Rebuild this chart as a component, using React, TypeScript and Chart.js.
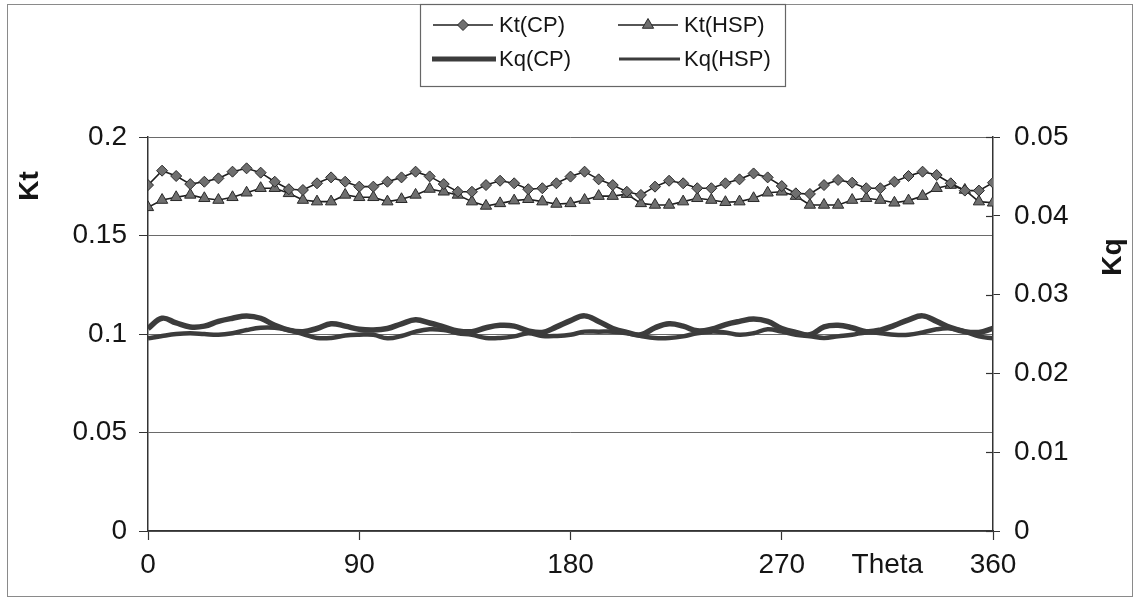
import React, { useEffect, useRef } from "react";
import { Chart, registerables } from "chart.js";

Chart.register(...registerables);

// ---- data ----
const theta = [
  0, 6, 12, 18, 24, 30, 36, 42, 48, 54, 60, 66, 72, 78, 84, 90, 96, 102, 108, 114, 120,
  126, 132, 138, 144, 150, 156, 162, 168, 174, 180, 186, 192, 198, 204, 210, 216, 222, 228, 234, 240,
  246, 252, 258, 264, 270, 276, 282, 288, 294, 300, 306, 312, 318, 324, 330, 336, 342, 348, 354, 360,
];

const ktCP = [
  0.1756, 0.1829, 0.1802, 0.1761, 0.1773, 0.179, 0.1824, 0.1841, 0.1819, 0.1773, 0.1735, 0.1731, 0.1765, 0.1795, 0.1773, 0.1748, 0.1748, 0.1773, 0.1795, 0.1824, 0.18,
  0.1761, 0.1722, 0.1722, 0.1756, 0.1778, 0.1765, 0.1735, 0.174, 0.1765, 0.1799, 0.1824, 0.1785, 0.1756, 0.1722, 0.1706, 0.1748, 0.1778, 0.1765, 0.174, 0.174,
  0.1765, 0.1785, 0.1815, 0.1795, 0.1751, 0.1714, 0.1711, 0.1756, 0.1782, 0.1768, 0.174, 0.174, 0.1773, 0.1802, 0.1824, 0.1807, 0.1765, 0.1728, 0.1728, 0.1768,
];

const ktHSP = [
  0.1643, 0.168, 0.1694, 0.1706, 0.1689, 0.168, 0.1694, 0.1717, 0.174, 0.174, 0.1714, 0.168, 0.1672, 0.1672, 0.1706, 0.1694, 0.1694, 0.1672, 0.1684, 0.1706, 0.1736,
  0.1722, 0.1706, 0.1672, 0.165, 0.1663, 0.1677, 0.1684, 0.1672, 0.166, 0.1663, 0.168, 0.17, 0.17, 0.171, 0.1663, 0.1655, 0.1655, 0.1672, 0.1689, 0.168,
  0.1669, 0.1672, 0.1689, 0.1717, 0.1722, 0.17, 0.1655, 0.1655, 0.1655, 0.168, 0.1689, 0.168, 0.1666, 0.1677, 0.17, 0.174, 0.1756, 0.1731, 0.1672, 0.1666,
];

const kqCP = [
  0.0257, 0.027, 0.0264, 0.0259, 0.026, 0.0266, 0.027, 0.0273, 0.027, 0.0261, 0.0255, 0.0253, 0.0257, 0.0263, 0.026, 0.0256, 0.0255, 0.0257, 0.0263, 0.0268, 0.0264,
  0.0259, 0.0254, 0.0253, 0.0258, 0.0261, 0.026, 0.0254, 0.0252, 0.0259, 0.0267, 0.0273, 0.0266, 0.0257, 0.0252, 0.0249, 0.0258, 0.0263, 0.026, 0.0254, 0.0256,
  0.0262, 0.0266, 0.0269, 0.0266, 0.0257, 0.0252, 0.0249, 0.0259, 0.0261, 0.0258, 0.0253, 0.0255, 0.0261, 0.0268, 0.0273, 0.0266, 0.0258, 0.0253, 0.0252, 0.0257,
];

const kqHSP = [
  0.02445, 0.02475, 0.025, 0.0251, 0.025, 0.0249, 0.0251, 0.0255, 0.0258, 0.0258, 0.0255, 0.025, 0.0245, 0.0245, 0.0248, 0.0249, 0.0249, 0.02445, 0.02475, 0.0253, 0.0256,
  0.0255, 0.0251, 0.0249, 0.0245, 0.0245, 0.0247, 0.0251, 0.02475, 0.02475, 0.0249, 0.0253, 0.0253, 0.0253, 0.0251, 0.02475, 0.0245, 0.0245, 0.0247, 0.0251, 0.0253,
  0.0252, 0.0249, 0.0251, 0.0256, 0.0253, 0.0249, 0.0247, 0.0245, 0.0247, 0.0249, 0.0252, 0.0251, 0.0249, 0.0249, 0.0252, 0.0256, 0.0257, 0.0253, 0.0247, 0.02445,
];

const seriesNames = ["Kt(CP)", "Kt(HSP)", "Kq(CP)", "Kq(HSP)"];
const xTickValues = [0, 90, 180, 270, 315, 360];
const xTickTexts = ["0", "90", "180", "270", "Theta", "360"];
const leftTitle = "Kt";
const rightTitle = "Kq";

const FONT = "'Liberation Sans', Arial, sans-serif";
const TEXT = "#151515";

function pts(ys: number[]) {
  return theta.map((t, i) => ({ x: t, y: ys[i] }));
}

const decorPlugin = {
  id: "decor",
  beforeDraw(chart: any) {
    const ctx = chart.ctx;
    ctx.save();
    ctx.fillStyle = "#ffffff";
    ctx.fillRect(0, 0, chart.width, chart.height);
    ctx.restore();
  },
  afterDraw(chart: any) {
    const ctx: CanvasRenderingContext2D = chart.ctx;
    ctx.save();
    // outer frame
    ctx.strokeStyle = "#8a8a8a";
    ctx.lineWidth = 1;
    ctx.strokeRect(7.5, 4.5, 1125, 592);

    // inner half of the crossing ticks on the right axis
    const y2 = chart.scales.y2;
    ctx.strokeStyle = "#333";
    ctx.lineWidth = 1.2;
    y2.ticks.forEach((t: any) => {
      const py = Math.round(y2.getPixelForValue(t.value)) + 0.5;
      ctx.beginPath();
      ctx.moveTo(y2.left - 7, py);
      ctx.lineTo(y2.left, py);
      ctx.stroke();
    });

    // axis titles
    ctx.fillStyle = TEXT;
    ctx.font = `bold 28px ${FONT}`;
    ctx.textAlign = "center";
    ctx.textBaseline = "middle";
    ctx.save();
    ctx.translate(30, 186);
    ctx.rotate(-Math.PI / 2);
    ctx.fillText(leftTitle, 0, 0);
    ctx.restore();
    ctx.save();
    ctx.translate(1113, 257);
    ctx.rotate(-Math.PI / 2);
    ctx.fillText(rightTitle, 0, 0);
    ctx.restore();

    // legend box
    ctx.fillStyle = "#ffffff";
    ctx.fillRect(420, 5, 365, 82);
    ctx.strokeStyle = "#666";
    ctx.lineWidth = 1.2;
    ctx.strokeRect(420.5, 4.5, 365, 82);

    const slots = [
      { x0: 433, x1: 493, y: 25, tx: 499 },
      { x0: 618, x1: 678, y: 25, tx: 684 },
      { x0: 432, x1: 496, y: 59, tx: 499 },
      { x0: 619, x1: 680, y: 59, tx: 684 },
    ];
    chart.data.datasets.forEach((ds: any, i: number) => {
      const s = slots[i];
      ctx.strokeStyle = ds.borderColor;
      ctx.lineWidth = i === 2 ? 5 : i === 3 ? 3 : ds.borderWidth;
      ctx.lineCap = "butt";
      ctx.beginPath();
      ctx.moveTo(s.x0, s.y);
      ctx.lineTo(s.x1, s.y);
      ctx.stroke();
      const cx = (s.x0 + s.x1) / 2;
      if (ds.pointStyle === "rectRot") {
        const r = ds.pointRadius;
        ctx.beginPath();
        ctx.moveTo(cx, s.y - r);
        ctx.lineTo(cx + r, s.y);
        ctx.lineTo(cx, s.y + r);
        ctx.lineTo(cx - r, s.y);
        ctx.closePath();
        ctx.fillStyle = ds.pointBackgroundColor;
        ctx.fill();
        ctx.strokeStyle = ds.pointBorderColor;
        ctx.lineWidth = 1;
        ctx.stroke();
      } else if (ds.pointStyle === "triangle") {
        const r = ds.pointRadius;
        ctx.beginPath();
        ctx.moveTo(cx, s.y - r);
        ctx.lineTo(cx + r * 0.866, s.y + r * 0.5);
        ctx.lineTo(cx - r * 0.866, s.y + r * 0.5);
        ctx.closePath();
        ctx.fillStyle = ds.pointBackgroundColor;
        ctx.fill();
        ctx.strokeStyle = ds.pointBorderColor;
        ctx.lineWidth = 1;
        ctx.stroke();
      }
      ctx.fillStyle = TEXT;
      ctx.font = `22px ${FONT}`;
      ctx.textAlign = "left";
      ctx.textBaseline = "middle";
      ctx.fillText(ds.label, s.tx, s.y + 1);
    });
    ctx.restore();
  },
};

export default function App() {
  const ref = useRef<HTMLCanvasElement | null>(null);

  useEffect(() => {
    if (!ref.current) return;
    const chart = new Chart(ref.current, {
      type: "line",
      data: {
        datasets: [
          {
            label: seriesNames[0],
            data: pts(ktCP),
            yAxisID: "y",
            borderColor: "#1e1e1e",
            borderWidth: 1.6,
            pointStyle: "rectRot",
            pointRadius: 5.5,
            pointBackgroundColor: "#6f6f6f",
            pointBorderColor: "#2a2a2a",
            pointBorderWidth: 1,
            tension: 0,
          },
          {
            label: seriesNames[1],
            data: pts(ktHSP),
            yAxisID: "y",
            borderColor: "#1e1e1e",
            borderWidth: 1.6,
            pointStyle: "triangle",
            pointRadius: 6.5,
            pointBackgroundColor: "#6f6f6f",
            pointBorderColor: "#2a2a2a",
            pointBorderWidth: 1,
            tension: 0,
          },
          {
            label: seriesNames[2],
            data: pts(kqCP),
            yAxisID: "y2",
            borderColor: "#3c3c3c",
            borderWidth: 5.5,
            pointRadius: 0,
            tension: 0.4,
          },
          {
            label: seriesNames[3],
            data: pts(kqHSP),
            yAxisID: "y2",
            borderColor: "#3c3c3c",
            borderWidth: 4.5,
            pointRadius: 0,
            tension: 0.4,
          },
        ],
      },
      options: {
        animation: false,
        responsive: false,
        maintainAspectRatio: false,
        layout: { padding: { top: 137, left: 0, right: 0, bottom: 0 } },
        plugins: {
          legend: { display: false },
          tooltip: { enabled: false },
          title: { display: false },
        },
        scales: {
          x: {
            type: "linear",
            min: 0,
            max: 360,
            afterBuildTicks: (scale: any) => {
              scale.ticks = xTickValues.map((v) => ({ value: v }));
            },
            afterFit: (scale: any) => {
              scale.height = 68;
            },
            ticks: {
              autoSkip: false,
              maxRotation: 0,
              padding: 8,
              color: TEXT,
              font: { family: FONT, size: 28 },
              callback: (v: any) => {
                const i = xTickValues.indexOf(Number(v));
                return i >= 0 ? xTickTexts[i] : "";
              },
            },
            grid: {
              drawOnChartArea: false,
              drawTicks: true,
              tickLength: 9,
              tickWidth: 1.2,
              tickColor: (c: any) => (c.tick && c.tick.value === 315 ? "rgba(0,0,0,0)" : "#333"),
            },
            border: { display: true, color: "#333", width: 1.5 },
          },
          y: {
            type: "linear",
            position: "left",
            min: 0,
            max: 0.2,
            afterFit: (scale: any) => {
              scale.width = 148;
            },
            ticks: {
              stepSize: 0.05,
              padding: 12,
              color: TEXT,
              font: { family: FONT, size: 28 },
              callback: (v: any) => String(Number(Number(v).toFixed(3))),
            },
            grid: {
              color: "#6a6a6a",
              lineWidth: 1,
              drawTicks: true,
              tickLength: 9,
              tickColor: "#333",
            },
            border: { display: true, color: "#333", width: 1.5 },
          },
          y2: {
            type: "linear",
            position: "right",
            min: 0,
            max: 0.05,
            afterFit: (scale: any) => {
              scale.width = 144;
            },
            ticks: {
              stepSize: 0.01,
              padding: 14,
              color: TEXT,
              font: { family: FONT, size: 28 },
              callback: (v: any) => String(Number(Number(v).toFixed(3))),
            },
            grid: {
              drawOnChartArea: false,
              drawTicks: true,
              tickLength: 7,
              tickColor: "#333",
            },
            border: { display: true, color: "#333", width: 1.5 },
          },
        },
      },
      plugins: [decorPlugin],
    } as any);
    return () => chart.destroy();
  }, []);

  return (
    <div style={{ position: "fixed", left: 0, top: 0, width: 1137, height: 599, background: "#fff" }}>
      <canvas ref={ref} width={1137} height={599} style={{ display: "block", width: 1137, height: 599 }} />
    </div>
  );
}
